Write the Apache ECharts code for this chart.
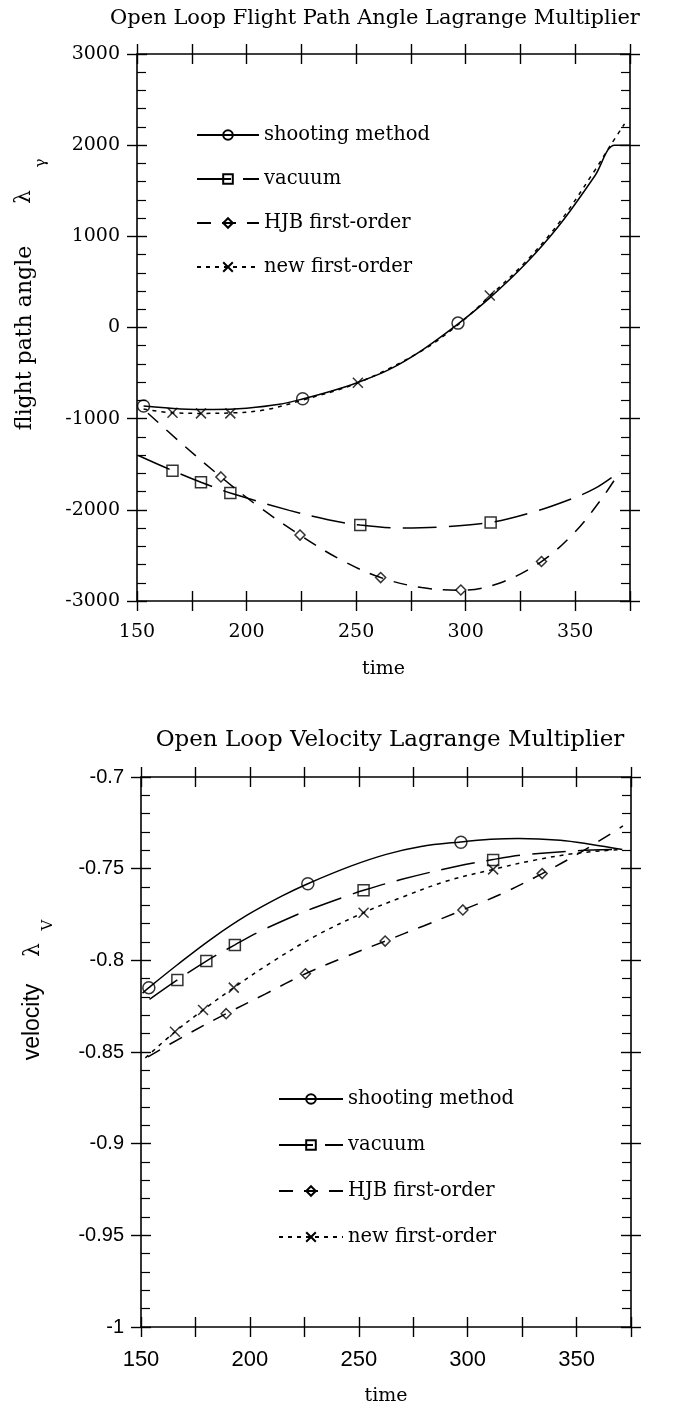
<!DOCTYPE html>
<html><head><meta charset="utf-8">
<script src="https://cdn.jsdelivr.net/npm/echarts@6/dist/echarts.min.js"></script>
<style>html,body{margin:0;padding:0;background:#fff}#c{width:688px;height:1412px}</style>
</head><body><div id="c"></div>
<script>
// ---------- Top chart: flight path angle Lagrange multiplier ----------
const shootT = [153, 170, 185, 200, 215, 226, 240, 251, 265, 280, 297, 311, 327, 343, 359, 368, 375];
const shootV = [-862, -893, -900, -885, -843, -781, -688, -600, -462, -250, 48, 325, 690, 1130, 1665, 2000, 2000];
const shootMarkT = [153, 225.6, 296.5];
const shootMarkV = [-862, -781, 48];

const vacT = [150.6, 166.2, 179.2, 192.6, 219.5, 237.2, 251.9, 270.8, 288.5, 311.4, 330, 346, 359, 370.5];
const vacV = [-1404, -1570, -1698, -1815, -2006, -2108, -2167, -2200, -2189, -2138, -2030, -1900, -1765, -1577];
const vacMarkT = [166.2, 179.2, 192.6, 251.9, 311.4];
const vacMarkV = [-1570, -1698, -1815, -2167, -2138];

const hjbT = [155, 170, 188.3, 205, 224.4, 243, 261.2, 280, 297.8, 315, 334.6, 350, 362, 370.5];
const hjbV = [-940, -1265, -1639, -1955, -2277, -2548, -2743, -2853, -2882, -2808, -2567, -2240, -1880, -1577];
const hjbMarkT = [188.3, 224.4, 261.2, 297.8, 334.6];
const hjbMarkV = [-1639, -2277, -2743, -2879, -2567];

const newT = [153, 166, 179, 193, 208, 225, 251, 280, 297, 311, 327, 343, 359, 366, 372.5];
const newV = [-895, -935, -942, -937, -905, -800, -605, -255, 40, 345, 712, 1160, 1725, 1995, 2234];
const newMarkT = [166.2, 179.2, 192.6, 250.8, 311];
const newMarkV = [-935, -942, -942, -605, 350];

// ---------- Bottom chart: velocity Lagrange multiplier ----------
const shootT2 = [150.7, 153.6, 166.7, 182.7, 198.7, 214.6, 226.6, 246.6, 262.6, 278.6, 296.9, 310.5, 323.3, 342.5, 356.9, 371];
const shootV2 = [-0.8179, -0.8149, -0.8024, -0.788, -0.7754, -0.765, -0.7582, -0.7485, -0.7422, -0.7379, -0.7354, -0.734, -0.7335, -0.7345, -0.7368, -0.7395];
const shootMarkT2 = [153.6, 226.6, 296.9];
const shootMarkV2 = [-0.8149, -0.7582, -0.7356];

const vacT2 = [153.9, 166.7, 180, 193.1, 204.3, 220.2, 229, 245, 252.2, 269.8, 294.6, 311.7, 326.5, 350.5, 370.5];
const vacV2 = [-0.8213, -0.8107, -0.8004, -0.7916, -0.7844, -0.7758, -0.7716, -0.7647, -0.7618, -0.7558, -0.7488, -0.745, -0.7424, -0.7402, -0.7395];
const vacMarkT2 = [166.7, 180, 193.1, 252.2, 311.7];
const vacMarkV2 = [-0.8107, -0.8004, -0.7916, -0.7618, -0.7453];

const hjbT2 = [153.2, 170, 189.1, 207, 225.5, 243, 262.1, 280, 297.8, 316, 334.2, 352, 371.3];
const hjbV2 = [-0.8527, -0.8412, -0.8291, -0.8184, -0.8073, -0.7985, -0.7895, -0.7811, -0.7725, -0.7635, -0.7527, -0.741, -0.7267];
const hjbMarkT2 = [189.1, 225.5, 262.1, 297.8, 334.2];
const hjbMarkV2 = [-0.8291, -0.8073, -0.7895, -0.7725, -0.7527];

const newT2 = [152, 165.6, 178.5, 192.6, 210, 230, 252.2, 270, 290, 311.7, 330, 350, 370.5];
const newV2 = [-0.8532, -0.839, -0.8271, -0.8149, -0.801, -0.7868, -0.774, -0.7655, -0.7569, -0.7504, -0.7455, -0.7416, -0.7395];
const newMarkT2 = [165.6, 178.5, 192.6, 252.2, 311.7];
const newMarkV2 = [-0.839, -0.8271, -0.8149, -0.774, -0.7504];

const seriesNames = ['shooting method', 'vacuum', 'HJB first-order', 'new first-order'];
const titles = ['Open Loop Flight Path Angle Lagrange Multiplier', 'Open Loop Velocity Lagrange Multiplier'];
const xTicks = [150, 200, 250, 300, 350];

// ---------- build ----------
const BLACK = '#000';
const SERIF = '"DejaVu Serif", serif';
const SANS = '"Liberation Sans", Arial, sans-serif';
const pairs = (t, v) => t.map((x, i) => [x, v[i]]);
const XSYM = 'path://M0 0L10 10M10 0L0 10';
const styles = [
  { type: 'solid', sym: 'circle', size: 12 },
  { type: [34, 12], sym: 'rect', size: 11 },
  { type: [14, 11], sym: 'diamond', size: 10 },
  { type: [4, 5], sym: XSYM, size: 10 }
];

function xAxes(g, labelFont, labelSize, nameGap) {
  const base = { type: 'value', gridIndex: g, min: 150, max: 375, interval: 25, splitLine: { show: false } };
  const ls = { color: BLACK, width: 1.6 };
  const ts = { color: BLACK, width: 1.4 };
  return [
    Object.assign({}, base, { position: 'bottom', axisLine: { show: true, onZero: false, lineStyle: ls }, axisTick: { show: false },
      axisLabel: { show: true, margin: 22, color: BLACK, fontFamily: labelFont, fontSize: labelSize,
        formatter: v => xTicks.indexOf(v) >= 0 ? String(v) : '' },
      name: 'time', nameLocation: 'middle', nameGap: nameGap,
      nameTextStyle: { color: BLACK, fontFamily: SERIF, fontSize: 19 } }),
    Object.assign({}, base, { position: 'bottom', offset: 10, axisLine: { show: false, onZero: false }, axisTick: { show: true, inside: true, length: 20, lineStyle: ts }, axisLabel: { show: false } }),
    Object.assign({}, base, { position: 'top', axisLine: { show: true, onZero: false, lineStyle: ls }, axisTick: { show: false }, axisLabel: { show: false } }),
    Object.assign({}, base, { position: 'top', offset: 10, axisLine: { show: false, onZero: false }, axisTick: { show: true, inside: true, length: 20, lineStyle: ts }, axisLabel: { show: false } })
  ];
}
function yAxes(g, min, max, interval, labelFont, labelSize, fmt) {
  const base = { type: 'value', gridIndex: g, min: min, max: max, interval: interval, splitLine: { show: false } };
  const ls = { color: BLACK, width: 1.6 };
  const ts = { color: BLACK, width: 1.4 };
  const minor = { show: true, splitNumber: 5, length: 9, lineStyle: { color: BLACK, width: 1.2 } };
  return [
    Object.assign({}, base, { position: 'left', axisLine: { show: true, onZero: false, lineStyle: ls }, axisTick: { show: false, inside: true }, minorTick: minor,
      axisLabel: { show: true, margin: 17, color: BLACK, fontFamily: labelFont, fontSize: labelSize, formatter: fmt } }),
    Object.assign({}, base, { position: 'left', offset: 10, axisLine: { show: false, onZero: false }, axisTick: { show: true, inside: true, length: 20, lineStyle: ts }, axisLabel: { show: false } }),
    Object.assign({}, base, { position: 'right', axisLine: { show: true, onZero: false, lineStyle: ls }, axisTick: { show: false, inside: true }, minorTick: minor, axisLabel: { show: false } }),
    Object.assign({}, base, { position: 'right', offset: 10, axisLine: { show: false, onZero: false }, axisTick: { show: true, inside: true, length: 20, lineStyle: ts }, axisLabel: { show: false } })
  ];
}

function chartSeries(axisIdx, lines, marks) {
  const out = [];
  lines.forEach((ln, i) => {
    const st = styles[i];
    out.push({
      name: seriesNames[i], type: 'line', xAxisIndex: axisIdx, yAxisIndex: axisIdx,
      data: pairs(ln[0], ln[1]), smooth: 0.35, showSymbol: false,
      symbol: st.sym, symbolSize: st.size, clip: true,
      lineStyle: { color: BLACK, width: 1.5, type: st.type },
      itemStyle: { color: 'rgba(0,0,0,0)', borderColor: BLACK, borderWidth: 1.5 },
      emphasis: { disabled: true }, silent: true, z: 3
    });
  });
  marks.forEach((mk, i) => {
    const st = styles[i];
    out.push({
      name: seriesNames[i] + ' markers', type: 'scatter', xAxisIndex: axisIdx, yAxisIndex: axisIdx,
      data: pairs(mk[0], mk[1]), symbol: st.sym, symbolSize: st.size,
      itemStyle: { color: 'rgba(0,0,0,0)', borderColor: BLACK, borderWidth: 1.5 },
      emphasis: { disabled: true }, silent: true, z: 4
    });
  });
  return out;
}

const series = [].concat(
  chartSeries(0,
    [[shootT, shootV], [vacT, vacV], [hjbT, hjbV], [newT, newV]],
    [[shootMarkT, shootMarkV], [vacMarkT, vacMarkV], [hjbMarkT, hjbMarkV], [newMarkT, newMarkV]]),
  chartSeries(4,
    [[shootT2, shootV2], [vacT2, vacV2], [hjbT2, hjbV2], [newT2, newV2]],
    [[shootMarkT2, shootMarkV2], [vacMarkT2, vacMarkV2], [hjbMarkT2, hjbMarkV2], [newMarkT2, newMarkV2]])
);

const option = {
  backgroundColor: '#fff',
  animation: false,
  title: [
    { text: titles[0], left: 370, top: 3, textAlign: 'center', textStyle: { color: BLACK, fontFamily: SERIF, fontSize: 21, fontWeight: 'normal' } },
    { text: titles[1], left: 385, top: 724, textAlign: 'center', textStyle: { color: BLACK, fontFamily: SERIF, fontSize: 23, fontWeight: 'normal' } }
  ],
  grid: [
    { left: 137, top: 54, width: 493, height: 547, containLabel: false, outerBoundsMode: 'none' },
    { left: 141, top: 777, width: 490, height: 550, containLabel: false, outerBoundsMode: 'none' }
  ],
  xAxis: [].concat(xAxes(0, SERIF, 19, 59), xAxes(1, SANS, 22, 60)),
  yAxis: [].concat(
    yAxes(0, -3000, 3000, 1000, SERIF, 19, v => String(v)),
    yAxes(1, -1, -0.7, 0.05, SANS, 20, v => String(Math.round(v * 100) / 100))
  ),
  legend: [
    { orient: 'vertical', left: 191, top: 120, itemWidth: 62, itemHeight: 12, itemGap: 24, data: seriesNames,
      textStyle: { color: BLACK, fontFamily: SERIF, fontSize: 19.5 }, selectedMode: false },
    { orient: 'vertical', left: 273, top: 1084, itemWidth: 64, itemHeight: 12, itemGap: 26, data: seriesNames,
      textStyle: { color: BLACK, fontFamily: SERIF, fontSize: 19.5 }, selectedMode: false }
  ],
  graphic: [
    { type: 'text', x: 25, y: 338, rotation: Math.PI / 2, style: { text: 'flight path angle', font: '22px "DejaVu Serif"', fill: BLACK, align: 'center', verticalAlign: 'middle' } },
    { type: 'text', x: 24, y: 197, rotation: Math.PI / 2, style: { text: 'λ', font: '22px "DejaVu Serif"', fill: BLACK, align: 'center', verticalAlign: 'middle' } },
    { type: 'text', x: 41, y: 163, rotation: Math.PI / 2, style: { text: 'γ', font: '15px "DejaVu Serif"', fill: BLACK, align: 'center', verticalAlign: 'middle' } },
    { type: 'text', x: 33, y: 1022, rotation: Math.PI / 2, style: { text: 'velocity', font: '23px "Liberation Sans"', fill: BLACK, align: 'center', verticalAlign: 'middle' } },
    { type: 'text', x: 33, y: 950, rotation: Math.PI / 2, style: { text: 'λ', font: '22px "DejaVu Serif"', fill: BLACK, align: 'center', verticalAlign: 'middle' } },
    { type: 'text', x: 48, y: 925, rotation: Math.PI / 2, style: { text: 'V', font: '15px "DejaVu Serif"', fill: BLACK, align: 'center', verticalAlign: 'middle' } }
  ],
  series: series
};

const chart = echarts.init(document.getElementById('c'), null, { renderer: 'canvas', width: 688, height: 1412 });
chart.setOption(option);
</script></body></html>
